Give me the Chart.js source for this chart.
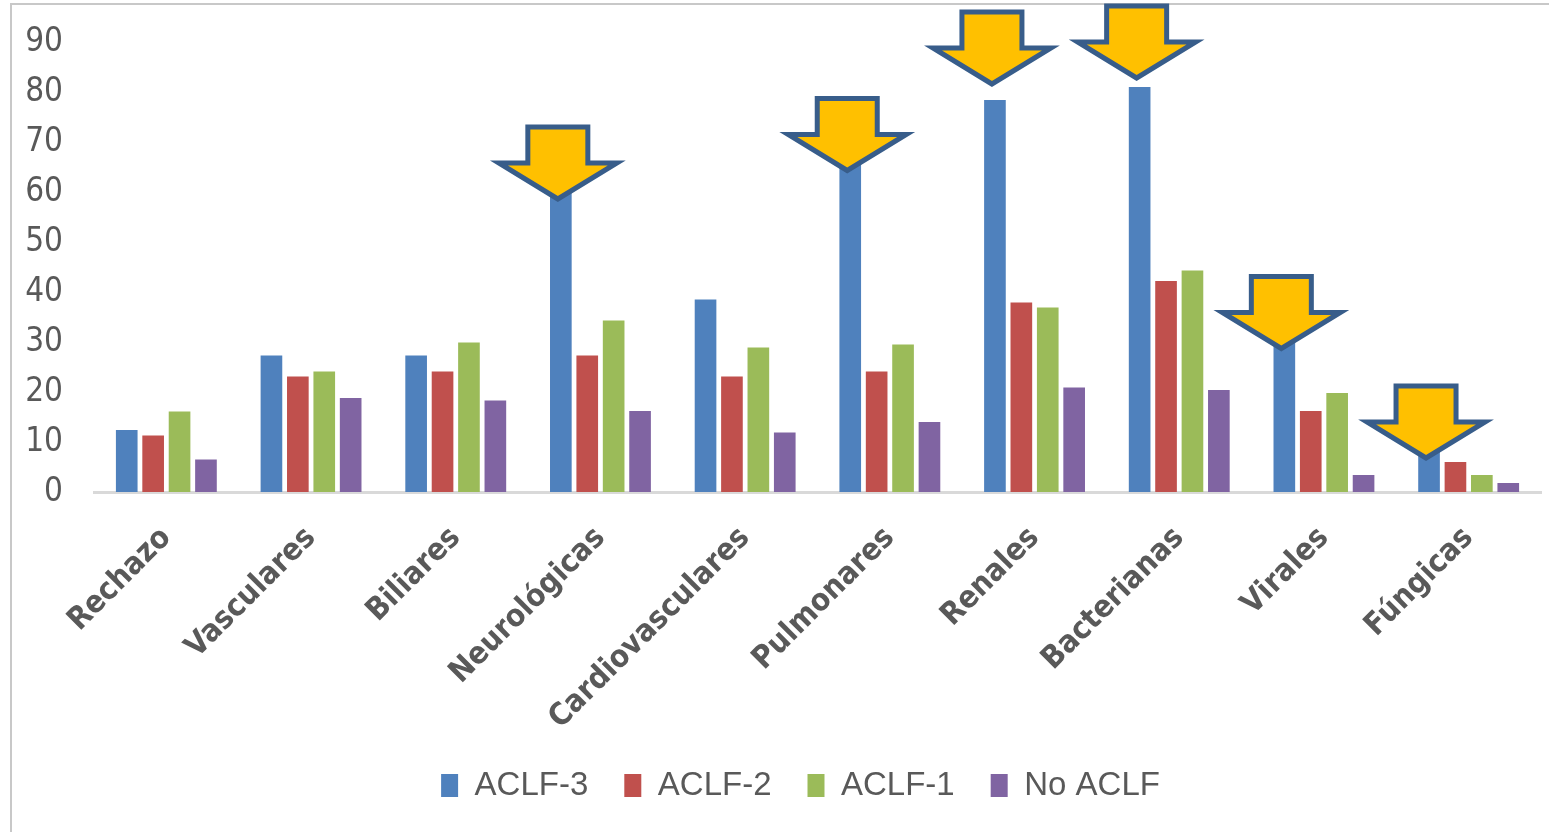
<!DOCTYPE html>
<html>
<head>
<meta charset="utf-8">
<title>Complicaciones por grado de ACLF</title>
<script src="https://cdn.jsdelivr.net/npm/chart.js@4/dist/chart.umd.min.js"></script>
<style>
  body { margin: 0; background: #fff; overflow: hidden; }
  #frame {
    position: absolute; left: 10px; top: 3px; width: 1600px; height: 900px;
    border-left: 2px solid #c8c8c8; border-top: 2px solid #c8c8c8;
  }
  #wrap { position: absolute; left: 0; top: 0; }
</style>
</head>
<body>
<div id="frame"></div>
<div id="wrap"><canvas id="chart" width="1549" height="832"></canvas></div>
<script>
'use strict';

// categories and series (%)
var categories = ['Rechazo', 'Vasculares', 'Biliares', 'Neurológicas', 'Cardiovasculares',
                  'Pulmonares', 'Renales', 'Bacterianas', 'Virales', 'Fúngicas'];
var aclf3  = [12.4, 27.3, 27.3, 60.0, 38.5, 66.0, 78.4, 81.0, 30.0, 8.0];
var aclf2  = [11.3, 23.1, 24.1, 27.3, 23.1, 24.1, 37.9, 42.2, 16.2, 6.0];
var aclf1  = [16.1, 24.1, 29.9, 34.3, 28.9, 29.5, 36.9, 44.3, 19.8, 3.4];
var noAclf = [6.5, 18.8, 18.3, 16.2, 11.9, 14.0, 20.9, 20.4, 3.4, 1.8];
var yTicks = [0, 10, 20, 30, 40, 50, 60, 70, 80, 90];

// highlighted categories (index) and where the arrow points to (value)
var arrowAt  = [3, 5, 6, 7, 8, 9];
var arrowTip = [58, 63.7, 81, 82.2, 28.1, 6.2];

var textColor = '#595959';

// yellow block arrows pointing down onto the ACLF-3 bars
var arrowPlugin = {
    id: 'arrows',
    afterLayout: function(chart) {
        // nudge the legend row a bit to the right
        chart.legend.left += 30;
        chart.legend.right += 30;
    },
    afterDatasetsDraw: function(chart) {
        var ctx = chart.ctx;
        var meta = chart.getDatasetMeta(0);
        var y = chart.scales.y;
        ctx.save();
        ctx.fillStyle = '#FFC000';
        ctx.strokeStyle = '#385D8A';
        ctx.lineWidth = 5;
        ctx.lineJoin = 'miter';
        for (var i = 0; i < arrowAt.length; i++) {
            var bar = meta.data[arrowAt[i]];
            var cx = bar.x - 3;
            var ty = y.getPixelForValue(arrowTip[i]) - 3;
            ctx.beginPath();
            ctx.moveTo(cx, ty);
            ctx.lineTo(cx - 59, ty - 36);
            ctx.lineTo(cx - 30, ty - 36);
            ctx.lineTo(cx - 30, ty - 72);
            ctx.lineTo(cx + 30, ty - 72);
            ctx.lineTo(cx + 30, ty - 36);
            ctx.lineTo(cx + 59, ty - 36);
            ctx.closePath();
            ctx.fill();
            ctx.stroke();
        }
        ctx.restore();
    }
};

function series(label, data, color) {
    return {
        label: label,
        data: data,
        backgroundColor: color,
        borderWidth: 0,
        barPercentage: 0.82,
        categoryPercentage: 0.73
    };
}

var chart = new Chart(document.getElementById('chart'), {
    type: 'bar',
    data: {
        labels: categories,
        datasets: [
            series('ACLF-3', aclf3, '#4F81BD'),
            series('ACLF-2', aclf2, '#C0504D'),
            series('ACLF-1', aclf1, '#9BBB59'),
            series('No ACLF', noAclf, '#8064A2')
        ]
    },
    options: {
        responsive: false,
        animation: false,
        layout: { padding: { top: 42, right: 8, left: 0, bottom: 20 } },
        plugins: {
            tooltip: { enabled: false },
            legend: {
                position: 'bottom',
                labels: {
                    boxWidth: 17,
                    boxHeight: 23,
                    padding: 36,
                    color: textColor,
                    font: { family: "'Liberation Sans', Arial, sans-serif", size: 33 }
                }
            }
        },
        scales: {
            x: {
                grid: { display: false, drawTicks: false },
                border: { display: true, color: '#D9D9D9', width: 3 },
                ticks: {
                    color: textColor,
                    maxRotation: 45,
                    minRotation: 45,
                    padding: 28,
                    font: { family: "'DejaVu Sans Condensed', 'DejaVu Sans', sans-serif", size: 31, weight: 'bold' }
                },
                afterFit: function(scale) { scale.height = 241; }
            },
            y: {
                min: 0,
                max: 90,
                grid: { display: false, drawTicks: false },
                border: { display: false },
                afterBuildTicks: function(scale) {
                    scale.ticks = yTicks.map(function(v) { return { value: v }; });
                },
                ticks: {
                    color: textColor,
                    padding: 31,
                    font: { family: "'DejaVu Sans Condensed', 'DejaVu Sans', sans-serif", size: 33 }
                },
                afterFit: function(scale) {
                    scale.width = 94;
                    scale.paddingTop = 0;
                    scale.paddingBottom = 0;
                }
            }
        }
    },
    plugins: [arrowPlugin]
});
</script>
</body>
</html>
